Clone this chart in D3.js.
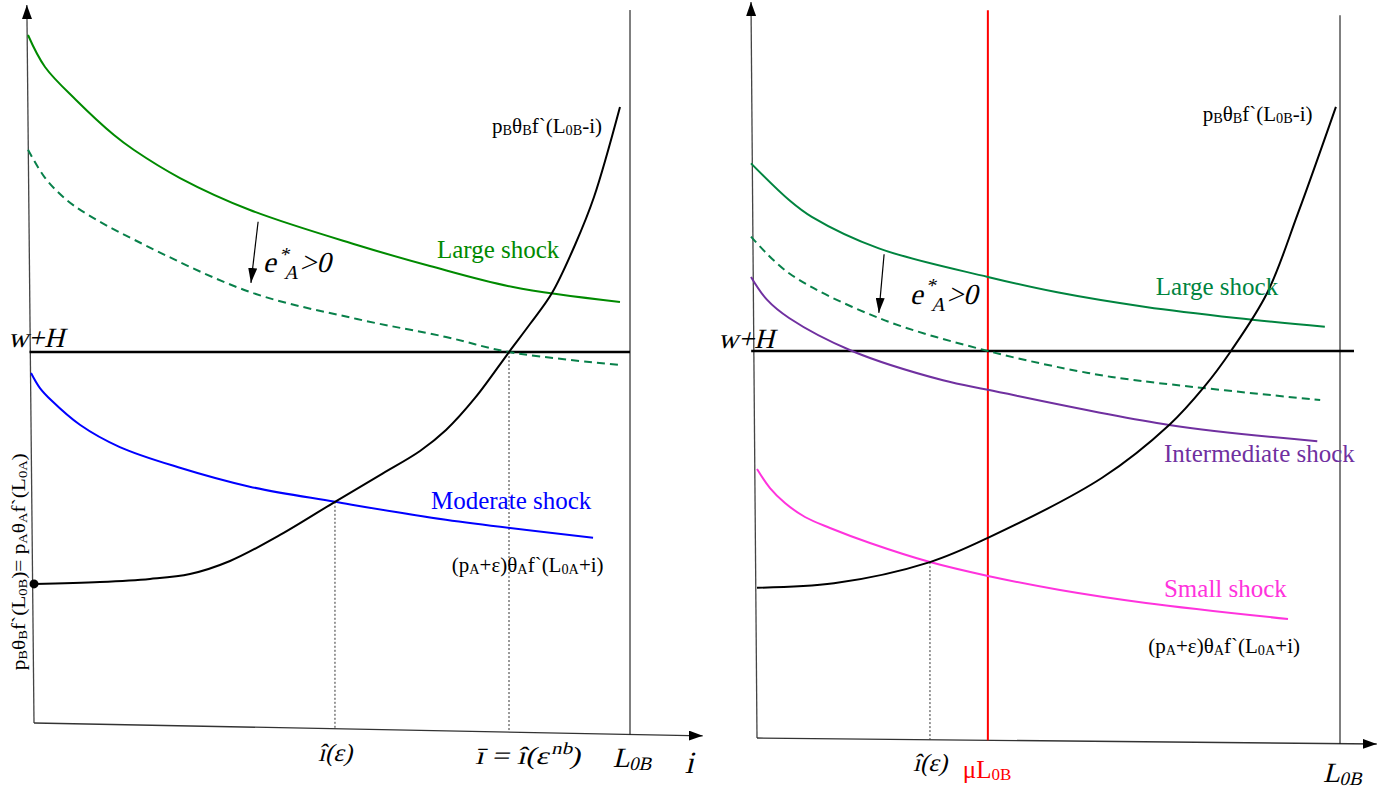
<!DOCTYPE html>
<html>
<head>
<meta charset="utf-8">
<script src="https://cdn.jsdelivr.net/npm/d3@7"></script>
<style>
    body { margin: 0; background: #fff; }
    svg text { font-family: "Liberation Serif", "Times New Roman", serif; }
</style>
</head>
<body>
<svg id="chart" width="1397" height="790"></svg>
<script>
// all curves are [i, value]; i runs 0..100 (100 = L0B), value 0..100 up the axis

// left panel
const leftLargeShock = [[-1.01, 95.83], [1.85, 91.39], [7.05, 86.81], [13.42, 81.94], [16.78, 79.86], [24.5, 75.97], [36.24, 71.53], [54.19, 66.67], [66.44, 63.75], [80.37, 60.83], [98.32, 58.75]];
const leftLargeShifted = [[-1.0, 79.9], [1.85, 76.0], [5.5, 72.9], [9.2, 70.8], [16.8, 67.4], [36.24, 60.14], [54.19, 56.39], [69.13, 53.89], [79.7, 51.8], [98.32, 50.0]];
const leftModerateShock = [[-0.5, 48.9], [1.0, 46.8], [2.9, 45.1], [7.7, 41.7], [14.4, 38.6], [24.2, 35.8], [36.2, 33.1], [50.5, 31.0], [69.1, 28.5], [93.8, 26.0]];
const leftSectorB = [[0, 19.6], [11.07, 19.86], [19.46, 20.28], [26.17, 20.97], [32.89, 22.78], [41.28, 26.39], [50.5, 31.0], [58.05, 34.72], [64.77, 38.06], [69.13, 40.97], [74.0, 45.42], [79.7, 51.8], [83.22, 55.69], [86.91, 60.0], [90.77, 66.67], [93.96, 73.33], [98.32, 85.83]];
const leftWH = 51.8;
const leftIHat = 50.5, leftIHatValue = 31.0;
const leftIBar = 79.7;
const leftStart = [0, 19.6];
const leftShiftArrow = [[37.6, 69.9], [36.4, 61.4]];

// right panel
const rightLargeShock = [[-1.03, 78.4], [5.5, 73.4], [9.4, 71.1], [20.9, 66.8], [39.6, 62.9], [51.5, 60.8], [66.7, 58.8], [82.2, 57.3], [97.4, 56.1]];
const rightLargeShifted = [[-1.03, 68.4], [5.5, 63.4], [20.9, 57.3], [39.6, 52.8], [56.8, 49.8], [66.0, 48.7], [96.6, 46.1]];
const rightIntermediateShock = [[-1.03, 62.9], [1.7, 59.8], [5.5, 57.3], [16.3, 52.8], [31.9, 48.8], [39.6, 47.5], [70.7, 42.7], [96.1, 40.5]];
const rightSmallShock = [[0, 36.7], [2.23, 34.1], [4.8, 32.06], [8.23, 30.15], [12.52, 28.65], [19.38, 26.6], [29.67, 24.0], [39.62, 22.1], [51.97, 20.19], [66.72, 18.42], [91.08, 16.23]];
const rightSectorB = [[0, 20.5], [13.2, 21.1], [29.67, 24.0], [39.6, 27.3], [59.2, 35.5], [70.7, 42.7], [76.7, 47.9], [81.3, 52.8], [87.5, 60.7], [92.8, 71.6], [99.3, 86.1]];
const rightWH = 52.8;
const rightIHat = 29.67, rightIHatValue = 24.0;
const rightMuL0B = 39.6;
const rightShiftArrow = [[21.8, 66.0], [20.9, 58.0]];

const svg = d3.select("#chart");
const defs = svg.append("defs");

function addMarker(id, w, h) {
    defs.append("marker")
        .attr("id", id)
        .attr("viewBox", "0 0 10 10")
        .attr("refX", 10)
        .attr("refY", 5)
        .attr("markerUnits", "userSpaceOnUse")
        .attr("markerWidth", w)
        .attr("markerHeight", h)
        .attr("preserveAspectRatio", "none")
        .attr("orient", "auto")
        .append("path")
        .attr("d", "M0,0L10,5L0,10z")
        .attr("fill", "#000");
}
addMarker("axisArrow", 14, 10);
addMarker("smallArrow", 15, 9);

// text with _{sub} and ^{sup} parts
function rich(sel, str, size, subShift) {
    const re = /([_^])\{([^}]*)\}|([^_^]+)/g;
    let cur = 0, m;
    while ((m = re.exec(str)) !== null) {
        let t = m[3], fs = size, target = 0;
        if (!t) {
            t = m[2];
            fs = size * 0.68;
            target = m[1] === "_" ? size * subShift : -size * 0.4;
        }
        sel.append("tspan").attr("font-size", fs).attr("dy", target - cur).text(t);
        cur = target;
    }
    return sel;
}

function drawPanel(p) {
    const x = p.x, y = p.y;
    const g = svg.append("g");
    const line = d3.line().x(d => x(d[0])).y(d => y(d[1])).curve(d3.curveCatmullRom.alpha(0.5));
    const straight = d3.line().x(d => x(d[0])).y(d => y(d[1]));

    // value of the (slightly tilted) horizontal axis at i
    const a0 = p.xAxis[0], a1 = p.xAxis[1];
    const baseV = i => a0[1] + (a1[1] - a0[1]) * (i - a0[0]) / (a1[0] - a0[0]);

    // axes
    g.append("path").attr("d", straight(p.yAxis))
        .attr("stroke", "#444").attr("stroke-width", 1.3).attr("fill", "none")
        .attr("marker-end", "url(#axisArrow)");
    g.append("path").attr("d", straight(p.xAxis))
        .attr("stroke", "#333").attr("stroke-width", 1.3).attr("fill", "none")
        .attr("marker-end", "url(#axisArrow)");

    // L0B boundary
    g.append("path").attr("d", straight([[100, baseV(100)], [100, p.l0bTop]]))
        .attr("stroke", "#000").attr("stroke-width", 1).attr("fill", "none");

    (p.extraVertical || []).forEach(v => {
        g.append("path").attr("d", straight([[v.i, baseV(v.i)], [v.i, v.top]]))
            .attr("stroke", v.color).attr("stroke-width", 2).attr("fill", "none");
    });

    // drop lines
    p.drops.forEach(d => {
        g.append("path").attr("d", straight([[d[0], d[1]], [d[0], baseV(d[0])]]))
            .attr("stroke", "#333").attr("stroke-width", 1).attr("stroke-dasharray", "2,2").attr("fill", "none");
    });

    // w + H
    g.append("path").attr("d", straight([[p.whFrom, p.wh], [p.whTo, p.wh]]))
        .attr("stroke", "#000").attr("stroke-width", 2.6).attr("fill", "none");

    p.curves.forEach(c => {
        g.append("path").attr("d", line(c.data))
            .attr("stroke", c.color).attr("stroke-width", c.width || 2)
            .attr("stroke-dasharray", c.dash || null)
            .attr("fill", "none");
    });

    // shift arrow
    g.append("path").attr("d", straight(p.arrow))
        .attr("stroke", "#000").attr("stroke-width", 1.2).attr("fill", "none")
        .attr("marker-end", "url(#smallArrow)");

    if (p.dot) {
        g.append("circle").attr("cx", x(p.dot[0])).attr("cy", y(p.dot[1])).attr("r", 4.5).attr("fill", "#000");
    }

    p.labels.forEach(l => {
        const px = x(l.at[0]), py = y(l.at[1]);
        let tf = `translate(${px},${py})`;
        if (l.rotate) tf += " rotate(-90)";
        if (l.italic) tf += " skewX(-14)";
        const t = g.append("text")
            .attr("transform", tf)
            .attr("fill", l.color || "#000")
            .attr("font-size", l.size)
            .attr("text-anchor", l.anchor || "start");
        if (l.length) t.attr("textLength", l.length).attr("lengthAdjust", "spacingAndGlyphs");
        rich(t, l.text, l.size, l.subShift === undefined ? 0.25 : l.subShift);
    });
}

const formulaB = "p_{B}θ_{B}f`(L_{0B}-i)";
const formulaA = "(p_{A}+ε)θ_{A}f`(L_{0A}+i)";

drawPanel({
    x: d3.scaleLinear().domain([0, 100]).range([34, 630]),
    y: d3.scaleLinear().domain([0, 100]).range([725, 5]),
    yAxis: [[0, 0.28], [-1.2, 100]],
    xAxis: [[0, 0.28], [112.2, -1.5]],
    l0bTop: 99.3,
    wh: leftWH, whFrom: -0.75, whTo: 100,
    drops: [[leftIHat, leftIHatValue], [leftIBar, leftWH]],
    curves: [
        {data: leftLargeShock, color: "#008a00"},
        {data: leftLargeShifted, color: "#08804a", dash: "8,5"},
        {data: leftModerateShock, color: "#0000ff"},
        {data: leftSectorB, color: "#000"}
    ],
    arrow: leftShiftArrow,
    dot: leftStart,
    labels: [
        {text: "w+H", at: [-4.36, 52.5], size: 28, italic: true},
        {text: "e^{*}_{A}>0", at: [38.4, 62.9], size: 29, italic: true},
        {text: "Large shock", at: [67.6, 64.9], size: 25, color: "#008a00"},
        {text: formulaB, at: [95.3, 82.2], size: 21, anchor: "end", subShift: 0.08},
        {text: "Moderate shock", at: [66.6, 30.0], size: 25, color: "#0000ff"},
        {text: formulaA, at: [70.1, 21.25], size: 21, subShift: 0.08},
        {text: "p_{B}θ_{B}f`(L_{0B})= p_{A}θ_{A}f`(L_{0A})", at: [-1.5, 7.6], size: 18, rotate: true, length: 217, subShift: 0.08},
        {text: "î(ε)", at: [leftIHat, -5.0], size: 25, italic: true, anchor: "middle"},
        {text: "ī = î(ε^{nb})", at: [74.0, -5.4], size: 25, italic: true, length: 105},
        {text: "L_{0B}", at: [97.1, -5.8], size: 28, italic: true, subShift: 0.12},
        {text: "i", at: [109.2, -6.7], size: 31, italic: true}
    ]
});

drawPanel({
    x: d3.scaleLinear().domain([0, 100]).range([757, 1340]),
    y: d3.scaleLinear().domain([0, 100]).range([738, 5]),
    yAxis: [[0, 0], [-1.03, 100.4]],
    xAxis: [[0, 0], [106.3, -0.82]],
    l0bTop: 98.6,
    extraVertical: [{i: rightMuL0B, top: 99.3, color: "#ff0000"}],
    wh: rightWH, whFrom: -1.0, whTo: 102.4,
    drops: [[rightIHat, rightIHatValue]],
    curves: [
        {data: rightLargeShock, color: "#00843f"},
        {data: rightLargeShifted, color: "#08804a", dash: "8,5"},
        {data: rightIntermediateShock, color: "#7030a0"},
        {data: rightSmallShock, color: "#ff33dd"},
        {data: rightSectorB, color: "#000"}
    ],
    arrow: rightShiftArrow,
    labels: [
        {text: "w+H", at: [-6.7, 53.2], size: 28, italic: true},
        {text: "e^{*}_{A}>0", at: [26.2, 59.2], size: 29, italic: true},
        {text: "Large shock", at: [68.4, 60.4], size: 25, color: "#00843f"},
        {text: formulaB, at: [95.3, 84.2], size: 21, anchor: "end", subShift: 0.08},
        {text: "Intermediate shock", at: [69.8, 37.7], size: 25, color: "#7030a0"},
        {text: "Small shock", at: [69.8, 19.2], size: 25, color: "#ff33dd"},
        {text: formulaA, at: [67.1, 11.6], size: 21, subShift: 0.08},
        {text: "î(ε)", at: [rightIHat, -4.5], size: 25, italic: true, anchor: "middle"},
        {text: "μL_{0B}", at: [35.3, -5.5], size: 25, color: "#ff0000", subShift: 0.08},
        {text: "L_{0B}", at: [97.1, -6.0], size: 28, italic: true, subShift: 0.12}
    ]
});
</script>
</body>
</html>
